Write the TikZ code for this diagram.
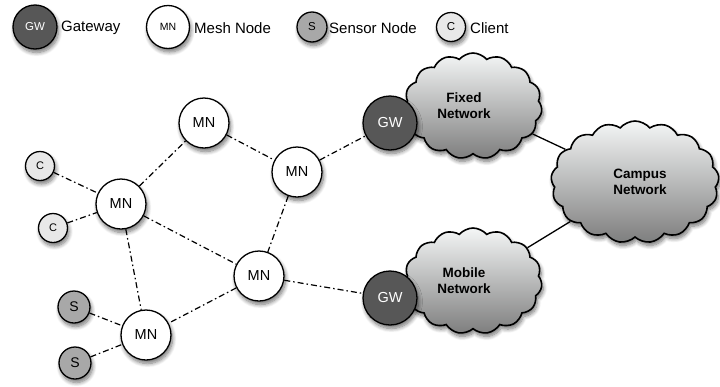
\documentclass[tikz,border=0pt]{standalone}
\usepackage{fontspec}
\setmainfont{Liberation Sans}
\usetikzlibrary{shapes.symbols,shadows.blur,backgrounds}
\definecolor{gwfill}{HTML}{575757}
\definecolor{sfill}{HTML}{A8A8A8}
\definecolor{cfill}{HTML}{E8E8E8}
\definecolor{cloudtop}{HTML}{F4F6F6}
\definecolor{cloudbot}{HTML}{7E7E7E}
\begin{document}
\begin{tikzpicture}[x=1pt,y=-1pt,
  shad/.style={blur shadow={shadow xshift=1.5pt, shadow yshift=-3.5pt, shadow blur steps=8, shadow blur radius=4pt, shadow opacity=55}},
  base/.style={circle, draw=black, line width=1.3pt, inner sep=0pt, shad},
  gw/.style={base, fill=gwfill, text=white, minimum size=54pt, font=\fontsize{14.5}{16}\selectfont},
  mn/.style={base, fill=white, minimum size=50pt, font=\fontsize{14.5}{16}\selectfont},
  sn/.style={base, fill=sfill, minimum size=32pt, font=\fontsize{14}{16}\selectfont},
  cl/.style={base, fill=cfill, minimum size=29pt, font=\fontsize{11}{13}\selectfont},
  lgw/.style={gw, minimum size=44pt, font=\fontsize{11.5}{13}\selectfont},
  lmn/.style={mn, minimum size=43pt, font=\fontsize{10.5}{12}\selectfont},
  lsn/.style={sn, minimum size=30pt, font=\fontsize{11.5}{13}\selectfont},
  lcl/.style={cl, minimum size=29pt, font=\fontsize{11.5}{13}\selectfont},
  legtext/.style={anchor=west, inner sep=0pt, font=\fontsize{15}{18}\selectfont},
  net/.style={cloud, cloud puffs=15, cloud puff arc=100, aspect=1.3, draw=black, line width=1.6pt,
    top color=cloudtop, bottom color=cloudbot, inner sep=0pt, shad},
  cloudtext/.style={font=\bfseries\fontsize{13.5}{16}\selectfont, align=center},
  link/.style={line width=1.2pt, dash pattern=on 6pt off 3pt on 1.5pt off 3pt},
  wire/.style={line width=1.3pt}
]
\useasboundingbox (0,0) rectangle (720,386);

% legend
\node[lgw] (lgw) at (35,27) {GW};
\node[legtext] (tgw) at (61,28) {Gateway};
\node[lmn] (lmn) at (168,27) {MN};
\node[legtext] (tmn) at (194,28) {Mesh Node};
\node[lsn] (lsn) at (312,27) {S};
\node[legtext] (tsn) at (329,28) {Sensor Node};
\node[lcl] (lcl) at (451,27) {C};
\node[legtext] (tcl) at (470,28) {Client};

% clouds
\node[net, minimum width=138pt, minimum height=106pt,
  label={[cloudtext, xshift=-9pt]center:Fixed\\Network}] (fixed) at (473,106) {};
\node[net, minimum width=138pt, minimum height=106pt,
  label={[cloudtext, xshift=-9pt]center:Mobile\\Network}] (mobile) at (473,281) {};
\node[net, cloud puffs=17, minimum width=168pt, minimum height=122pt,
  label={[cloudtext, xshift=5pt]center:Campus\\Network}] (campus) at (635,182) {};

% gateways
\node[gw] (gw1) at (390,123) {GW};
\node[gw] (gw2) at (390,298) {GW};

% mesh nodes
\node[mn] (mn1) at (204,123) {MN};
\node[mn] (mn2) at (297,172) {MN};
\node[mn] (mn3) at (121,204) {MN};
\node[mn] (mn4) at (259,276) {MN};
\node[mn] (mn5) at (146,335) {MN};

% clients and sensors
\node[cl] (c1) at (40,166) {C};
\node[cl] (c2) at (53,228) {C};
\node[sn] (s1) at (74,307) {S};
\node[sn] (s2) at (75,363) {S};

\begin{scope}[on background layer]
\draw[link] (c1) -- (mn3);
\draw[link] (c2) -- (mn3);
\draw[link] (mn3) -- (mn1);
\draw[link] (mn1) -- (mn2);
\draw[link] (mn2) -- (gw1);
\draw[link] (mn2) -- (mn4);
\draw[link] (mn3) -- (mn4);
\draw[link] (mn3) -- (mn5);
\draw[link] (mn4) -- (mn5);
\draw[link] (mn4) -- (gw2);
\draw[link] (s1) -- (mn5);
\draw[link] (s2) -- (mn5);
\draw[wire] (fixed) -- (campus);
\draw[wire] (mobile) -- (campus);
\end{scope}
\end{tikzpicture}
\end{document}
